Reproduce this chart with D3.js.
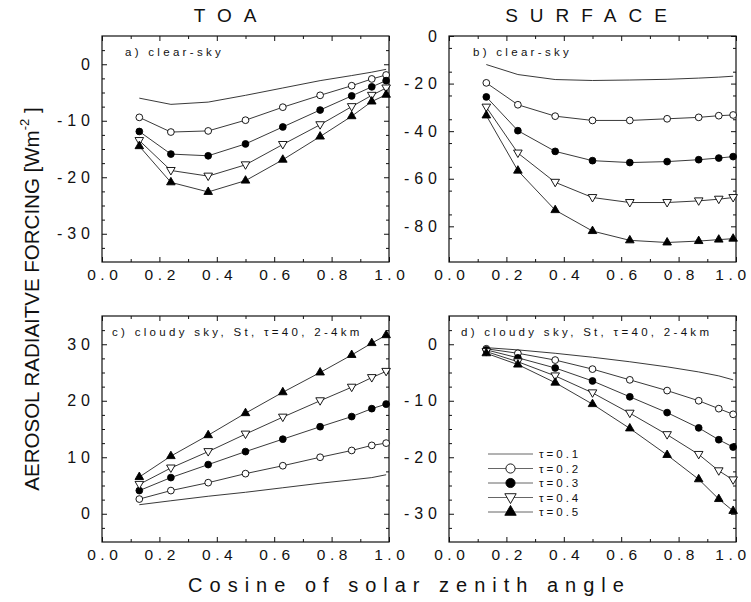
<!DOCTYPE html>
<html>
<head>
<meta charset="utf-8">
<script src="https://cdnjs.cloudflare.com/ajax/libs/d3/7.8.5/d3.min.js"></script>
<style>
  body { margin: 0; background: #fff; }
  svg { display: block; }
</style>
</head>
<body>
<svg id="chart" width="751" height="602"></svg>
<script>
// cosine of solar zenith angle (x positions of all curves)
var muValues = [0.13, 0.24, 0.37, 0.50, 0.63, 0.76, 0.87, 0.94, 0.99];

var tauLabels = ["τ=0.1", "τ=0.2", "τ=0.3", "τ=0.4", "τ=0.5"];

// a) TOA, clear sky  (one row per tau)
var toaClear = [
    [-6.0, -7.1, -6.7, -5.5, -4.2, -2.9, -2.0, -1.4, -0.9],
    [-9.4, -12.0, -11.8, -9.9, -7.6, -5.5, -3.8, -2.6, -1.9],
    [-11.9, -15.9, -16.2, -14.1, -11.1, -8.1, -5.6, -4.0, -2.9],
    [-13.5, -18.8, -19.8, -17.8, -14.2, -10.7, -7.5, -5.5, -4.2],
    [-14.5, -20.9, -22.6, -20.6, -16.9, -12.8, -9.2, -6.6, -5.4]
];

// b) surface, clear sky
var sfcClear = [
    [-12.0, -16.2, -18.3, -18.7, -18.5, -18.2, -17.7, -17.3, -16.9],
    [-19.7, -28.9, -33.7, -35.5, -35.5, -34.8, -34.2, -33.5, -33.2],
    [-25.6, -39.8, -48.5, -52.4, -53.2, -52.8, -52.0, -51.3, -50.7],
    [-29.9, -49.2, -61.5, -67.9, -70.0, -70.0, -69.3, -68.6, -67.9],
    [-33.4, -56.6, -73.2, -82.0, -85.9, -86.8, -86.2, -85.6, -85.2]
];

// c) TOA, cloudy sky
var toaCloudy = [
    [1.6, 2.3, 3.1, 3.8, 4.6, 5.4, 6.0, 6.4, 6.9],
    [2.6, 4.1, 5.5, 7.1, 8.5, 10.0, 11.2, 12.1, 12.5],
    [4.1, 6.4, 8.7, 11.0, 13.2, 15.4, 17.2, 18.6, 19.4],
    [5.2, 8.1, 11.0, 14.1, 17.1, 20.0, 22.4, 24.1, 25.2],
    [6.5, 10.2, 13.9, 17.8, 21.5, 25.0, 28.1, 30.2, 31.6]
];

// d) surface, cloudy sky
var sfcCloudy = [
    [-0.6, -1.0, -1.6, -2.3, -3.1, -4.0, -4.9, -5.6, -6.3],
    [-0.8, -1.6, -2.8, -4.4, -6.3, -8.2, -10.0, -11.4, -12.4],
    [-1.0, -2.4, -4.2, -6.5, -9.3, -12.1, -14.8, -16.9, -18.2],
    [-1.3, -3.1, -5.6, -8.6, -12.2, -16.0, -19.5, -22.4, -24.0],
    [-1.6, -3.6, -6.8, -10.6, -14.9, -19.6, -23.9, -27.4, -29.5]
];

var xTicks = [0.0, 0.2, 0.4, 0.6, 0.8, 1.0];

var font = "'Liberation Sans', Arial, sans-serif";
var svg = d3.select("#chart");
svg.append("rect").attr("width", 751).attr("height", 602).attr("fill", "white");

var panels = [
    {data: toaClear,  label: "a) clear-sky", left: 102, top: 36,  yDomain: [-35, 5],  yTicks: [-30, -20, -10, 0],      yMinor: 2.5, labX: 23, legend: false},
    {data: sfcClear,  label: "b) clear-sky", left: 449, top: 36,  yDomain: [-95, 0],  yTicks: [-80, -60, -40, -20, 0], yMinor: 10,  labX: 24, legend: false},
    {data: toaCloudy, label: "c) cloudy sky, St, τ=40, 2-4km", left: 102, top: 316, yDomain: [-5, 35], yTicks: [0, 10, 20, 30], yMinor: 2.5, labX: 10, legend: false},
    {data: sfcCloudy, label: "d) cloudy sky, St, τ=40, 2-4km", left: 449, top: 316, yDomain: [-35, 5], yTicks: [-30, -20, -10, 0], yMinor: 2.5, labX: 12, legend: true}
];

var pw = 287, ph = 226;

// marker for the tau index k (0 has none)
function createMarker(g, k, x, y, big) {
    if (k == 0) return;
    var isCircle = (k == 1 || k == 2);
    var size = isCircle ? (big ? 66 : 36) : (big ? 56 : 32);
    var sym = d3.symbol().type(isCircle ? d3.symbolCircle : d3.symbolTriangle).size(size);
    var rot = (k == 3) ? 180 : 0;
    var dy = 0;
    if (k == 3) dy = -0.5;
    g.append("path")
        .attr("d", sym())
        .attr("transform", "translate(" + x + "," + (y + dy) + ") rotate(" + rot + ")")
        .attr("fill", (k == 2 || k == 4) ? "black" : "white")
        .attr("stroke", "black")
        .attr("stroke-width", 0.9);
}

function styleAxis(ax) {
    ax.select(".domain").remove();
    ax.selectAll("line").attr("stroke", "#111").attr("stroke-width", 1);
}

function createPanel(p) {
    var g = svg.append("g");
    var x = d3.scaleLinear().domain([0, 1]).range([p.left, p.left + pw]);
    var y = d3.scaleLinear().domain(p.yDomain).range([p.top + ph, p.top]);

    var xMinor = d3.range(0.1, 1.0, 0.2);
    var yAll = d3.range(p.yDomain[0] + p.yMinor, p.yDomain[1], p.yMinor)
        .filter(function(v) { return p.yTicks.indexOf(v) < 0; });

    // bottom axis with labels
    var bx = g.append("g").attr("transform", "translate(0," + (p.top + ph) + ")")
        .call(d3.axisBottom(x).tickValues(xTicks).tickSizeInner(-5).tickSizeOuter(0).tickPadding(7)
            .tickFormat(function(d) { return d.toFixed(1); }));
    styleAxis(bx);
    bx.selectAll("text").attr("font-family", font).attr("font-size", 15.5)
        .attr("letter-spacing", 4.6).attr("dx", function(d) { return (d == 1 && p.left > 300) ? -3.5 : 2.3; })
        .attr("fill", "#111");
    var bxm = g.append("g").attr("transform", "translate(0," + (p.top + ph) + ")")
        .call(d3.axisBottom(x).tickValues(xMinor).tickSizeInner(-3).tickSizeOuter(0).tickFormat(""));
    styleAxis(bxm);

    // top mirror ticks
    var tx = g.append("g").attr("transform", "translate(0," + p.top + ")")
        .call(d3.axisTop(x).tickValues(xTicks).tickSizeInner(-5).tickSizeOuter(0).tickFormat(""));
    styleAxis(tx);
    var txm = g.append("g").attr("transform", "translate(0," + p.top + ")")
        .call(d3.axisTop(x).tickValues(xMinor).tickSizeInner(-3).tickSizeOuter(0).tickFormat(""));
    styleAxis(txm);

    // left axis with labels
    var ly = g.append("g").attr("transform", "translate(" + p.left + ",0)")
        .call(d3.axisLeft(y).tickValues(p.yTicks).tickSizeInner(-5).tickSizeOuter(0).tickPadding(7)
            .tickFormat(function(d) { return String(d); }));
    styleAxis(ly);
    ly.selectAll("text").attr("font-family", font).attr("font-size", 16)
        .attr("letter-spacing", 5).attr("fill", "#111");
    var lym = g.append("g").attr("transform", "translate(" + p.left + ",0)")
        .call(d3.axisLeft(y).tickValues(yAll).tickSizeInner(-3).tickSizeOuter(0).tickFormat(""));
    styleAxis(lym);

    // right mirror ticks
    var ry = g.append("g").attr("transform", "translate(" + (p.left + pw) + ",0)")
        .call(d3.axisRight(y).tickValues(p.yTicks).tickSizeInner(-5).tickSizeOuter(0).tickFormat(""));
    styleAxis(ry);
    var rym = g.append("g").attr("transform", "translate(" + (p.left + pw) + ",0)")
        .call(d3.axisRight(y).tickValues(yAll).tickSizeInner(-3).tickSizeOuter(0).tickFormat(""));
    styleAxis(rym);

    // frame
    g.append("rect")
        .attr("x", p.left).attr("y", p.top).attr("width", pw).attr("height", ph)
        .attr("fill", "none").attr("stroke", "#111").attr("stroke-width", 1.2);

    // curves
    var line = d3.line()
        .x(function(d, i) { return x(muValues[i]); })
        .y(function(d) { return y(d); });
    p.data.forEach(function(series, k) {
        g.append("path")
            .attr("d", line(series))
            .attr("fill", "none")
            .attr("stroke", "#222")
            .attr("stroke-width", 0.9);
        series.forEach(function(v, i) {
            createMarker(g, k, x(muValues[i]), y(v), false);
        });
    });

    // panel label
    g.append("text")
        .attr("x", p.left + p.labX)
        .attr("y", p.top + 20)
        .attr("font-family", font)
        .attr("font-size", 11.5)
        .attr("letter-spacing", 3.3)
        .attr("fill", "#111")
        .text(p.label);

    if (p.legend) {
        var lx0 = p.left + 39, lx1 = p.left + 84, ly0 = p.top + 138, step = 14.5;
        tauLabels.forEach(function(t, k) {
            var yy = ly0 + k * step;
            g.append("line")
                .attr("x1", lx0).attr("x2", lx1).attr("y1", yy).attr("y2", yy)
                .attr("stroke", "#666").attr("stroke-width", 1);
            createMarker(g, k, (lx0 + lx1) / 2, yy, true);
            g.append("text")
                .attr("x", lx1 + 6)
                .attr("y", yy + 4)
                .attr("font-family", font)
                .attr("font-size", 11.5)
                .attr("letter-spacing", 3)
                .attr("fill", "#111")
                .text(t);
        });
    }
}

panels.forEach(createPanel);

// column titles
svg.append("text").attr("x", 225 + 6).attr("y", 22)
    .attr("text-anchor", "middle").attr("font-family", font).attr("font-size", 19)
    .attr("letter-spacing", 12).attr("fill", "#111").text("TOA");
svg.append("text").attr("x", 586 + 6).attr("y", 22)
    .attr("text-anchor", "middle").attr("font-family", font).attr("font-size", 19)
    .attr("letter-spacing", 12).attr("fill", "#111").text("SURFACE");

// x axis title
svg.append("text").attr("x", 406 + 3.5).attr("y", 592)
    .attr("text-anchor", "middle").attr("font-family", font).attr("font-size", 20)
    .attr("letter-spacing", 7).attr("fill", "#111").text("Cosine of solar zenith angle");

// y axis title, rotated, with superscript
var yt = svg.append("text")
    .attr("transform", "translate(39,299) rotate(-90)")
    .attr("text-anchor", "middle").attr("font-family", font).attr("font-size", 20.5)
    .attr("fill", "#111");
yt.append("tspan").text("AEROSOL RADIAITVE FORCING [Wm");
yt.append("tspan").attr("dy", -10).attr("font-size", 13).text("-2");
yt.append("tspan").attr("dy", 10).text(" ]");
</script>
</body>
</html>
